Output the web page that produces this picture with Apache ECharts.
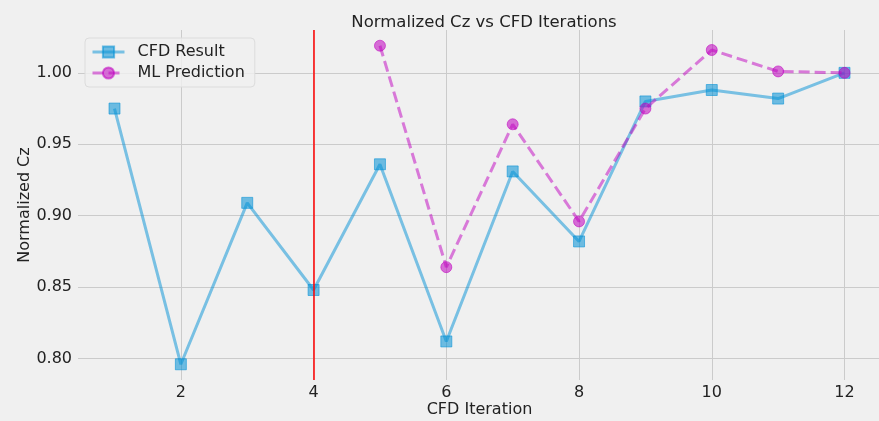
<!DOCTYPE html>
<html>
<head>
<meta charset="utf-8">
<script src="https://cdn.jsdelivr.net/npm/echarts@6/dist/echarts.min.js"></script>
<style>html,body{margin:0;padding:0;background:#f0f0f0;}#c{width:879px;height:421px;}</style>
</head>
<body>
<div id="c"></div>
<script>
const iterations = [1,2,3,4,5,6,7,8,9,10,11,12];
const cfdResult = [0.975,0.796,0.909,0.848,0.936,0.812,0.931,0.882,0.980,0.988,0.982,1.000];
const mlIterations = [5,6,7,8,9,10,11,12];
const mlPrediction = [1.019,0.864,0.964,0.896,0.975,1.016,1.001,1.000];
const xTicks = [2,4,6,8,10,12];
const yTicks = [0.80,0.85,0.90,0.95,1.00];
const splitIteration = 4;

const font = 'DejaVu Sans';
const chart = echarts.init(document.getElementById('c'));
chart.setOption({
  backgroundColor: '#f0f0f0',
  animation: false,
  title: {
    text: 'Normalized Cz vs CFD Iterations',
    left: 479, top: 9, textAlign: 'center',
    textStyle: {fontFamily: font, fontSize: 16.5, fontWeight: 'normal', color: '#222'}
  },
  legend: {
    orient: 'vertical', left: 85, top: 38,
    padding: [6, 10, 6, 6],
    itemWidth: 32, itemHeight: 14, itemGap: 5,
    backgroundColor: 'rgba(240,240,240,0.8)',
    borderColor: '#dcdcdc', borderWidth: 1, borderRadius: 4,
    textStyle: {fontFamily: font, fontSize: 16, color: '#222', padding: [0,0,0,8]},
    data: [
      {name: 'CFD Result', lineStyle: {width: 3}},
      {name: 'ML Prediction', lineStyle: {width: 3}}
    ]
  },
  grid: {left: 78, top: 30, width: 803, height: 350, outerBoundsMode: 'none', containLabel: false},
  xAxis: {
    type: 'value', min: 0.45, max: 12.55,
    name: 'CFD Iteration', nameLocation: 'middle', nameGap: 22, nameMoveOverlap: false,
    nameTextStyle: {fontFamily: font, fontSize: 16, color: '#222'},
    axisLine: {show: false},
    axisTick: {show: false, customValues: xTicks},
    axisLabel: {customValues: xTicks, fontFamily: font, fontSize: 16, color: '#222', margin: 5},
    splitLine: {show: true, lineStyle: {color: '#cbcbcb', width: 1}}
  },
  yAxis: {
    type: 'value', min: 0.785, max: 1.03,
    name: 'Normalized Cz', nameLocation: 'middle', nameGap: 45, nameRotate: 90, nameMoveOverlap: false,
    nameTextStyle: {fontFamily: font, fontSize: 16, color: '#222'},
    axisLine: {show: false},
    axisTick: {show: false, customValues: yTicks},
    axisLabel: {customValues: yTicks, fontFamily: font, fontSize: 16, color: '#222', margin: 6,
      formatter: v => v.toFixed(2)},
    splitLine: {show: true, lineStyle: {color: '#cbcbcb', width: 1}}
  },
  series: [
    {
      name: 'CFD Result', type: 'line',
      data: iterations.map((x, i) => [x, cfdResult[i]]),
      symbol: 'rect', symbolSize: 11,
      lineStyle: {color: '#008fd5', width: 3, opacity: 0.5},
      itemStyle: {color: '#008fd5', opacity: 0.55, borderColor: '#008fd5', borderWidth: 1},
      markLine: {
        silent: true, symbol: 'none', label: {show: false},
        lineStyle: {color: '#ff0000', width: 1.5, type: 'solid', opacity: 1},
        data: [{xAxis: splitIteration}]
      },
      z: 2
    },
    {
      name: 'ML Prediction', type: 'line',
      data: mlIterations.map((x, i) => [x, mlPrediction[i]]),
      symbol: 'circle', symbolSize: 11,
      lineStyle: {color: '#bf00bf', width: 3, opacity: 0.5, type: [11, 5]},
      itemStyle: {color: '#bf00bf', opacity: 0.55, borderColor: '#bf00bf', borderWidth: 1},
      z: 3
    }
  ]
});
</script>
</body>
</html>
